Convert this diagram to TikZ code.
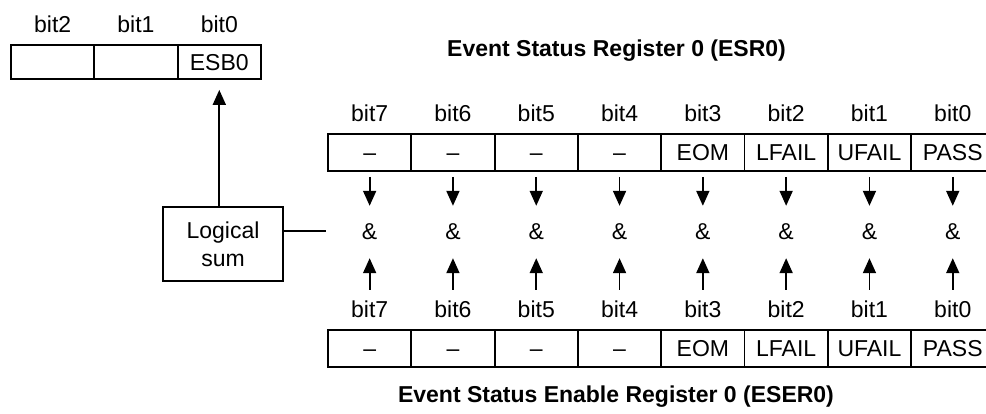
\documentclass[tikz,border=0pt]{standalone}
\usepackage{fontspec}
\setmainfont{Liberation Sans}
\usetikzlibrary{arrows.meta}
\begin{document}
\begin{tikzpicture}[x=1pt,y=-1pt,
  txt/.style={font={\fontsize{23}{28}\selectfont}},
  cell/.style={txt,draw,line width=1.8pt,minimum width=83.3pt,minimum height=37pt,inner sep=0pt,text height=16.5pt,text depth=0pt},
  lbl/.style={txt,inner sep=0pt,text height=16.8pt,text depth=0pt},
  ampn/.style={txt,inner sep=0pt,text height=16.5pt,text depth=0pt},
  ttl/.style={font={\fontsize{23}{28}\selectfont\bfseries},inner sep=0pt},
  conn/.style={line width=1.8pt},
  arr/.style={conn,-{Triangle[length=15pt,width=13pt]}}]
\useasboundingbox (0,0) rectangle (986,414);
\clip (0,0) rectangle (986,414);
% top register
\node[cell,minimum height=34pt] (t2) at (52.7,62) {};
\node[cell,minimum height=34pt] (t1) at (136,62) {};
\node[cell,minimum height=34pt] (esb0) at (219.3,62) {ESB0};
\node[lbl,anchor=base] (tl2) at (52.7,33) {bit2};
\node[lbl,anchor=base] (tl1) at (136,33) {bit1};
\node[lbl,anchor=base] (tl0) at (219.3,33) {bit0};
% titles
\node[ttl,anchor=base west] (title1) at (447,57) {Event Status Register 0 (ESR0)};
\node[ttl,anchor=base] (title2) at (616,402) {Event Status Enable Register 0 (ESER0)};
% registers
\foreach \b/\t [count=\k from 0] in {7/--,6/--,5/--,4/--,3/EOM,2/LFAIL,1/UFAIL,0/PASS}{
  \node[lbl,anchor=base] (ub\b) at ({369.65+83.3*\k},122) {bit\b};
  \node[cell] (u\b) at ({369.65+83.3*\k},152.5) {\t};
  \node[ampn,anchor=base] (a\b) at ({369.65+83.3*\k},240) {\&};
  \node[lbl,anchor=base] (lb\b) at ({369.65+83.3*\k},318) {bit\b};
  \node[cell] (l\b) at ({369.65+83.3*\k},348.5) {\t};
  \draw[arr,shorten <=5pt,shorten >=17.5pt] (u\b) -- (a\b);
  \draw[arr,shorten <=11pt,shorten >=18pt] (lb\b) -- (a\b);
}
% logical sum
\node[txt,draw,line width=1.8pt,minimum width=120pt,minimum height=74pt,align=center,inner sep=0pt] (logic) at (223,244) {Logical\\sum};
\coordinate (lend) at (326,231);
\draw[conn] (logic.east |- lend) -- (lend);
\draw[arr,shorten >=10pt] (logic.north -| esb0) -- (esb0.south);
\end{tikzpicture}
\end{document}
